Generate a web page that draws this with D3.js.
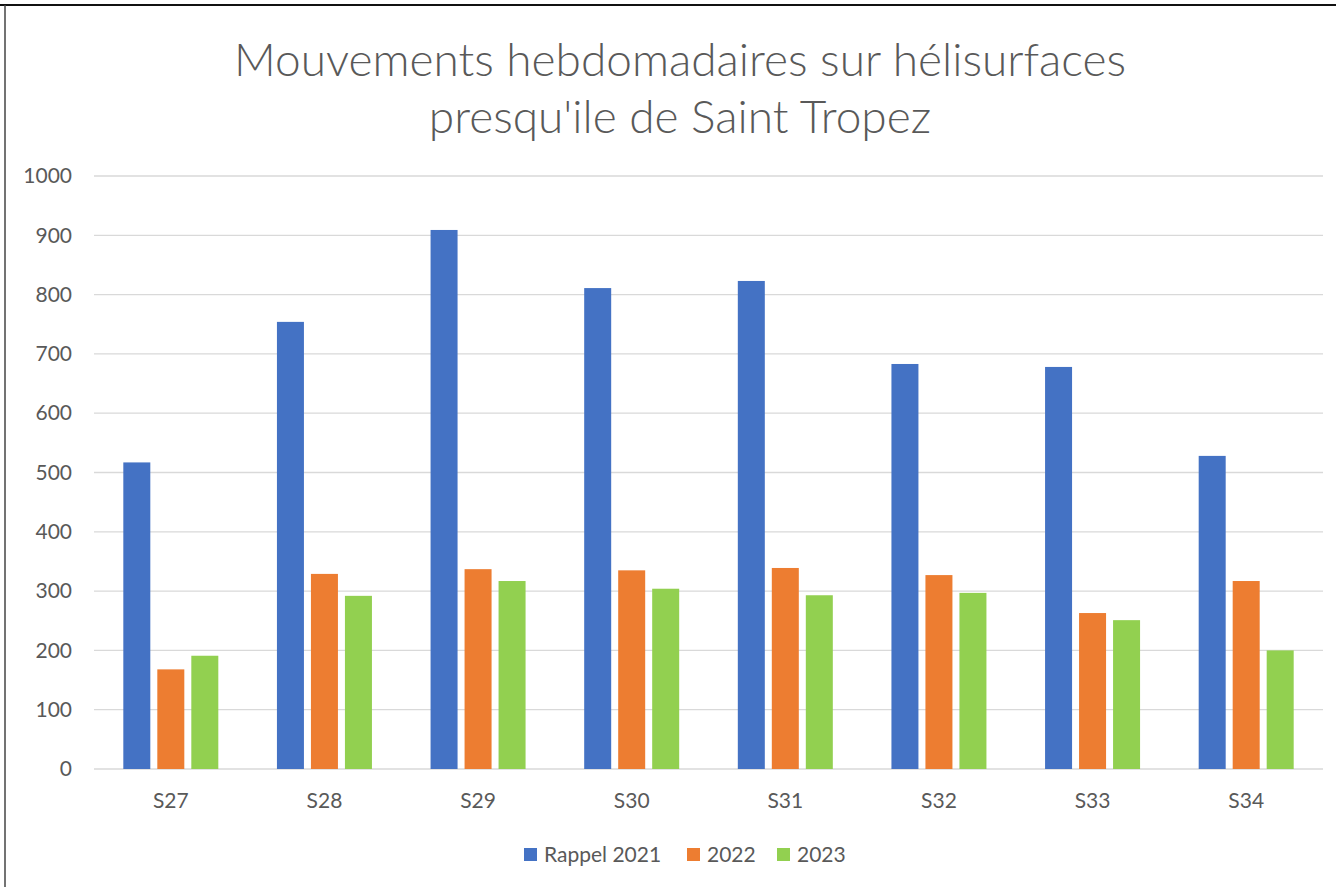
<!DOCTYPE html>
<html>
<head>
<meta charset="utf-8">
<script src="https://cdn.jsdelivr.net/npm/d3@7"></script>
<style>
  body { margin: 0; background: #fff; }
  svg { display: block; font-family: "Lato", "Open Sans", sans-serif; }
</style>
</head>
<body>
<script>
// data
var weeks = ["S27", "S28", "S29", "S30", "S31", "S32", "S33", "S34"];
var seriesNames = ["Rappel 2021", "2022", "2023"];
var rappel2021 = [517, 754, 909, 811, 823, 683, 678, 528];
var y2022 = [168, 329, 337, 335, 339, 327, 263, 317];
var y2023 = [191, 292, 317, 304, 293, 297, 251, 200];
var colors = ["#4472C4", "#ED7D31", "#92D050"];
var yTicks = [0, 100, 200, 300, 400, 500, 600, 700, 800, 900, 1000];

var width = 1336, height = 887;
var plotLeft = 94, plotRight = 1323, plotTop = 176, plotBottom = 769;

var svg = d3.select("body").append("svg")
    .attr("width", width)
    .attr("height", height);

// frame lines (top + left)
svg.append("line").attr("x1", 0).attr("x2", width).attr("y1", 5).attr("y2", 5)
    .attr("stroke", "#111").attr("stroke-width", 2);
svg.append("line").attr("x1", 5).attr("x2", 5).attr("y1", 5).attr("y2", height)
    .attr("stroke", "#444").attr("stroke-width", 1.5);

// title (light weight like the original)
var title = svg.append("text")
    .attr("text-anchor", "middle")
    .attr("fill", "#595959")
    .attr("font-weight", 300)
    .attr("font-size", 46);
title.append("tspan").attr("x", 680).attr("y", 76).text("Mouvements hebdomadaires sur hélisurfaces");
title.append("tspan").attr("x", 680).attr("y", 133).text("presqu'ile de Saint Tropez");

// scales
var x0 = d3.scaleBand().domain(weeks).range([plotLeft, plotRight]).paddingInner(0).paddingOuter(0);
var y = d3.scaleLinear().domain([0, 1000]).range([plotBottom, plotTop]);
var barW = 27, barGap = 7;
var groupW = 3 * barW + 2 * barGap;

// gridlines
svg.append("g").selectAll("line")
    .data(yTicks)
    .enter().append("line")
    .attr("x1", plotLeft).attr("x2", plotRight)
    .attr("y1", function (d) { return y(d); })
    .attr("y2", function (d) { return y(d); })
    .attr("stroke", "#d9d9d9")
    .attr("stroke-width", 1.3);

// y axis labels
var yAxis = d3.axisLeft(y).tickValues(yTicks).tickFormat(d3.format("d")).tickSize(0).tickPadding(0);
var yg = svg.append("g")
    .attr("transform", "translate(72,0)")
    .call(yAxis);
yg.select(".domain").remove();
yg.selectAll("text").attr("font-size", 21).attr("fill", "#595959").attr("font-family", "Lato, sans-serif");

// x axis labels
var xAxis = d3.axisBottom(x0).tickSize(0).tickPadding(0);
var xg = svg.append("g")
    .attr("transform", "translate(0,793)")
    .call(xAxis);
xg.select(".domain").remove();
xg.selectAll("text").attr("font-size", 21).attr("fill", "#595959").attr("font-family", "Lato, sans-serif");

// bars
var allSeries = [rappel2021, y2022, y2023];
allSeries.forEach(function (vals, s) {
    svg.append("g").selectAll("rect")
        .data(vals)
        .enter().append("rect")
        .attr("x", function (d, i) {
            return x0(weeks[i]) + x0.bandwidth() / 2 - groupW / 2 + s * (barW + barGap);
        })
        .attr("width", barW)
        .attr("y", function (d) { return y(d); })
        .attr("height", function (d) { return y(0) - y(d); })
        .attr("fill", colors[s]);
});

// legend
var legendX = [524, 687, 777];
var legend = svg.append("g");
seriesNames.forEach(function (name, i) {
    legend.append("rect")
        .attr("x", legendX[i]).attr("y", 848)
        .attr("width", 13).attr("height", 13)
        .attr("fill", colors[i]);
    legend.append("text")
        .attr("x", legendX[i] + 20).attr("y", 862)
        .attr("font-size", 21).attr("fill", "#595959")
        .text(name);
});
</script>
</body>
</html>
